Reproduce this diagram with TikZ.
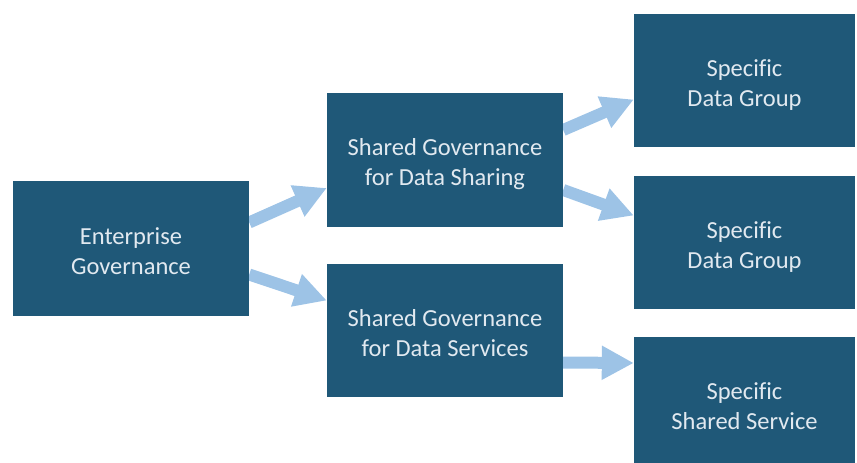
\documentclass[tikz,border=0pt]{standalone}
\usepackage{fontspec}
\setmainfont{Carlito}[Ligatures=CommonOff]
\usepackage{tikz}
\usetikzlibrary{arrows.meta,backgrounds}
\definecolor{boxblue}{HTML}{1F5878}
\definecolor{boxtext}{HTML}{E1E9F0}
\definecolor{arrowblue}{HTML}{9DC3E6}
\tikzset{
    govbox/.style={fill=boxblue,text=boxtext,align=center,
        font=\fontsize{24.5}{30}\selectfont,inner sep=0pt,
        text height=56pt,text depth=5pt},
    fatarrow/.style={draw=arrowblue,line width=12pt,
        -{Triangle[length=32pt,width=32pt,fill=arrowblue]}}
}
\begin{document}
\begin{tikzpicture}[x=1pt,y=-1pt]
                \useasboundingbox (0,0) rectangle (857,463);
                \node[govbox,minimum width=236pt,minimum height=135pt] (ent)
                    at (131,248.5) {Enterprise\\Governance};
                \node[govbox,minimum width=236pt,minimum height=134pt] (share)
                    at (445,160) {Shared Governance\\for Data Sharing};
                \node[govbox,minimum width=236pt,minimum height=133pt] (serv)
                    at (445,330.5) {Shared Governance\\for Data Services};
                \node[govbox,minimum width=221pt,minimum height=133pt] (grp1)
                    at (744.5,80.5) {Specific\\Data Group};
                \node[govbox,minimum width=221pt,minimum height=133pt] (grp2)
                    at (744.5,242.5) {Specific\\Data Group};
                \node[govbox,minimum width=221pt,minimum height=133pt] (svc)
                    at (744.5,403.5) {Specific\\Shared Service};
                \begin{scope}[on background layer]
                \draw[fatarrow]
                    ([yshift=26pt]ent.east) -- ([yshift=-28pt]share.west);
                \draw[fatarrow]
                    ([yshift=-26pt]ent.east) -- ([yshift=30pt]serv.west);
                \draw[fatarrow]
                    ([yshift=30pt]share.east) -- ([yshift=-19pt]grp1.west);
                \draw[fatarrow]
                    ([yshift=-30pt]share.east) -- ([yshift=27pt]grp2.west);
                \draw[fatarrow]
                    ([yshift=-32pt]serv.east) -- ([yshift=40.5pt]svc.west);
                \end{scope}
            \end{tikzpicture}
\end{document}
